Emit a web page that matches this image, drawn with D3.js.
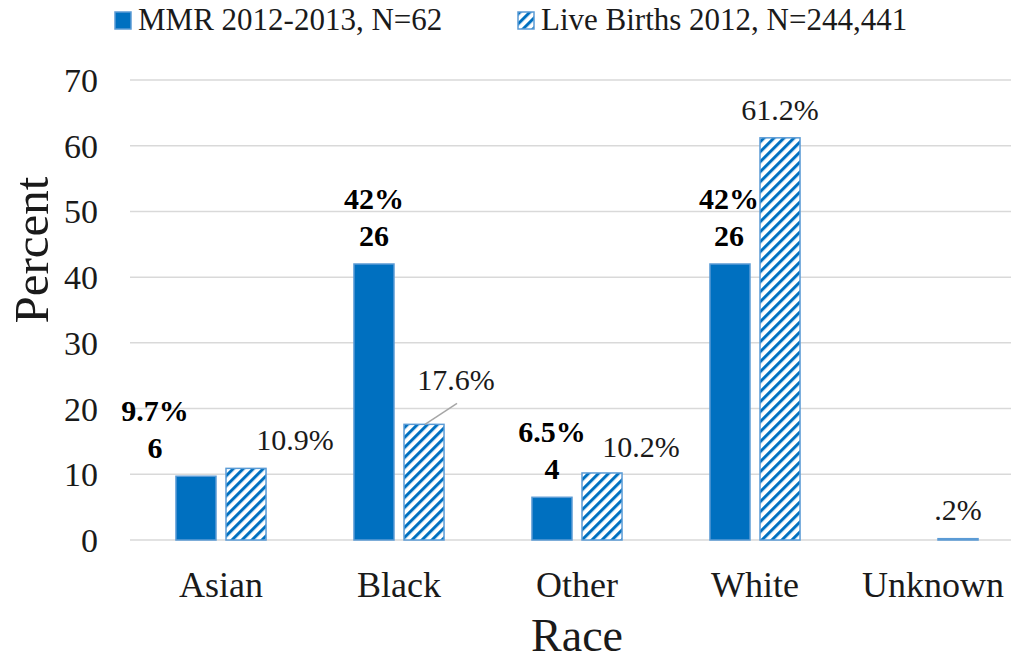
<!DOCTYPE html>
<html>
<head>
<meta charset="utf-8">
<script src="https://cdn.jsdelivr.net/npm/d3@7"></script>
<style>
  html, body { margin: 0; padding: 0; background: #fff; }
  svg, svg text { font-family: "Liberation Serif", "Times New Roman", serif; }
</style>
</head>
<body>
<svg id="chart" width="1011" height="660"></svg>
<script>
// ---- data ----
const categories = ["Asian", "Black", "Other", "White", "Unknown"];
const seriesNames = ["MMR 2012-2013, N=62", "Live Births 2012, N=244,441"];
const mmrPercent = [9.7, 42, 6.5, 42, null];
const mmrCounts = [6, 26, 4, 26, null];
const mmrPctLabels = ["9.7%", "42%", "6.5%", "42%", null];
const birthPercent = [10.9, 17.6, 10.2, 61.2, 0.2];
const birthLabels = ["10.9%", "17.6%", "10.2%", "61.2%", ".2%"];
const yTicks = [0, 10, 20, 30, 40, 50, 60, 70];

// ---- layout / style ----
const FONT = "Liberation Serif";
const svg = d3.select("#chart");
const W = 1011, H = 660;
const solid = "#0070C0", edge = "#5B9BD5";

const x = d3.scaleBand().domain(categories).range([132, 1022])
  .paddingInner(0.494).paddingOuter(0.247);
const xs = d3.scaleBand().domain([0, 1]).range([0, x.bandwidth()]).paddingInner(0.2);
const y = d3.scaleLinear().domain([0, 70]).range([540, 80]);

// hatch pattern
const defs = svg.append("defs");
const pat = defs.append("pattern").attr("id", "hatch")
  .attr("patternUnits", "userSpaceOnUse").attr("width", 7.07).attr("height", 7.07)
  .attr("patternTransform", "rotate(45)");
pat.append("rect").attr("width", 7.07).attr("height", 7.07).attr("fill", "#fff");
pat.append("rect").attr("x", 0).attr("y", 0).attr("width", 3).attr("height", 7.07).attr("fill", solid);

// y axis tick labels
const yAxis = d3.axisLeft(y).tickValues(yTicks).tickSize(0).tickPadding(0);
const gy = svg.append("g").attr("transform", "translate(98,0)").call(yAxis)
  .attr("font-family", FONT);
gy.select(".domain").remove();
gy.selectAll("text").attr("font-size", 34).attr("fill", "#1a1a1a")
  .attr("font-family", FONT).attr("dy", "0.34em");

// gridlines
svg.append("g").selectAll("line").data(yTicks).join("line")
  .attr("x1", 130).attr("x2", W)
  .attr("y1", d => y(d)).attr("y2", d => y(d))
  .attr("stroke", "#d9d9d9").attr("stroke-width", 1.5);

// bars
const gBars = svg.append("g");
categories.forEach((c, i) => {
  if (mmrPercent[i] != null) {
    gBars.append("rect")
      .attr("x", x(c) + xs(0)).attr("width", xs.bandwidth())
      .attr("y", y(mmrPercent[i])).attr("height", y(0) - y(mmrPercent[i]))
      .attr("fill", solid).attr("stroke", edge).attr("stroke-width", 1.5);
  }
  if (birthPercent[i] != null) {
    gBars.append("rect")
      .attr("x", x(c) + xs(1)).attr("width", xs.bandwidth())
      .attr("y", y(birthPercent[i])).attr("height", y(0) - y(birthPercent[i]))
      .attr("fill", "url(#hatch)").attr("stroke", edge).attr("stroke-width", 1.5);
  }
});

// data labels
const mmrDx = [-41, 0, 0, -1, 0];
const birthOff = [[49, -18], [32, -34], [39, -16], [0, -18], [0, -19]];
const gLab = svg.append("g").attr("font-family", FONT);
categories.forEach((c, i) => {
  if (mmrPercent[i] != null) {
    const cx = x(c) + xs(0) + xs.bandwidth() / 2 + mmrDx[i];
    const base = y(mmrPercent[i]) - 18;
    gLab.append("text").attr("x", cx).attr("y", base).attr("text-anchor", "middle")
      .attr("font-family", FONT).attr("font-size", 30).attr("font-weight", "bold").text(mmrCounts[i]);
    gLab.append("text").attr("x", cx).attr("y", base - 37).attr("text-anchor", "middle")
      .attr("font-family", FONT).attr("font-size", 30).attr("font-weight", "bold").text(mmrPctLabels[i]);
  }
  const bx = x(c) + xs(1) + xs.bandwidth() / 2;
  const top = y(birthPercent[i]);
  gLab.append("text").attr("x", bx + birthOff[i][0]).attr("y", top + birthOff[i][1])
    .attr("text-anchor", "middle").attr("font-family", FONT).attr("font-size", 30).attr("fill", "#1a1a1a")
    .text(birthLabels[i]);
  if (i === 1) {
    gLab.append("line").attr("x1", bx + 33).attr("y1", top - 21)
      .attr("x2", bx + 1).attr("y2", top)
      .attr("stroke", "#a6a6a6").attr("stroke-width", 1.5);
  }
});

// x axis labels
const xAxis = d3.axisBottom(x).tickSize(0).tickPadding(0);
const gx = svg.append("g").attr("transform", "translate(0,571)").call(xAxis)
  .attr("font-family", FONT);
gx.select(".domain").remove();
gx.selectAll("text").attr("font-size", 36).attr("fill", "#1a1a1a")
  .attr("font-family", FONT);

// axis titles
svg.append("text").attr("x", 577).attr("y", 651).attr("text-anchor", "middle")
  .attr("font-family", FONT).attr("font-size", 46).attr("fill", "#1a1a1a").text("Race");
svg.append("text").attr("transform", "translate(48,250) rotate(-90)")
  .attr("text-anchor", "middle").attr("font-family", FONT).attr("font-size", 49)
  .attr("fill", "#1a1a1a").text("Percent");

// legend
const leg = svg.append("g");
const legX = [115, 518];
seriesNames.forEach((s, i) => {
  leg.append("rect").attr("x", legX[i]).attr("y", 12).attr("width", 16).attr("height", 17)
    .attr("fill", i === 0 ? solid : "url(#hatch)").attr("stroke", edge).attr("stroke-width", 1.5);
  leg.append("text").attr("x", legX[i] + 23).attr("y", 30).attr("font-family", FONT)
    .attr("font-size", 31).attr("fill", "#1a1a1a").text(s);
});
</script>
</body>
</html>
